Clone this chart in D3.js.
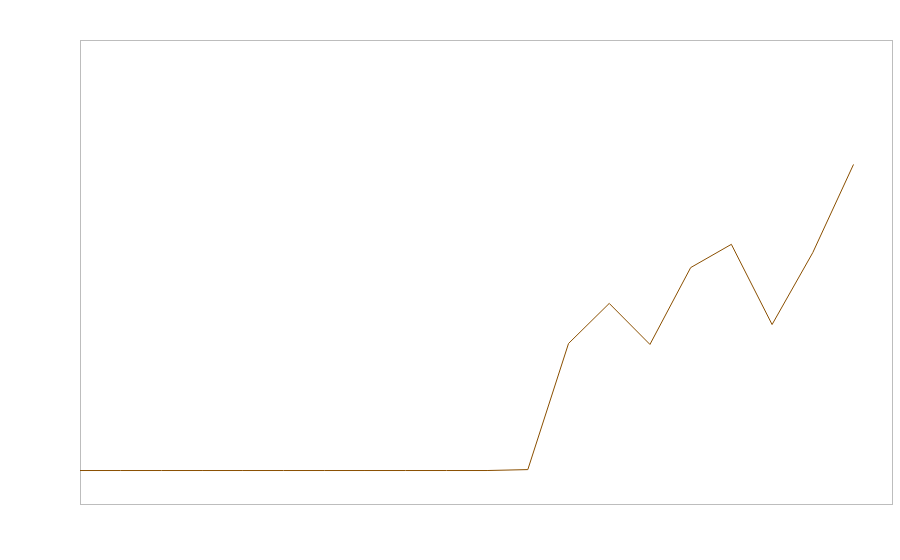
<!DOCTYPE html>
<html><head><meta charset="utf-8">
<script src="https://cdn.jsdelivr.net/npm/d3@7"></script>
<style>html,body{margin:0;padding:0;background:#fff;}svg{display:block;}</style>
</head><body>
<svg id="c" width="900" height="560"></svg>
<script>
const xIndex = [0,1,2,3,4,5,6,7,8,9,10,11,12,13,14,15,16,17,18,19];
const values = [0,0,0,0,0,0,0,0,0,0,0,0.3,41.5,54.6,41.2,66.3,73.9,47.7,71.2,100];

const m = {left: 80.5, top: 40.5, right: 892.5, bottom: 504.5};
const svg = d3.select('#c');

const x = d3.scaleLinear().domain([0, 19]).range([80, 853.5]);
const y = d3.scaleLinear().domain([-11.1, 140.5]).range([504.5, 40.5]);

svg.append('rect')
  .attr('x', m.left).attr('y', m.top)
  .attr('width', m.right - m.left).attr('height', m.bottom - m.top)
  .attr('fill', 'none').attr('stroke', '#bdbdbd').attr('stroke-width', 1);

const line = d3.line().x((d, i) => x(xIndex[i])).y(d => y(d));
svg.append('path').datum(values)
  .attr('d', line)
  .attr('fill', 'none')
  .attr('stroke', '#8a4f00')
  .attr('stroke-width', 1);
</script>
</body></html>
